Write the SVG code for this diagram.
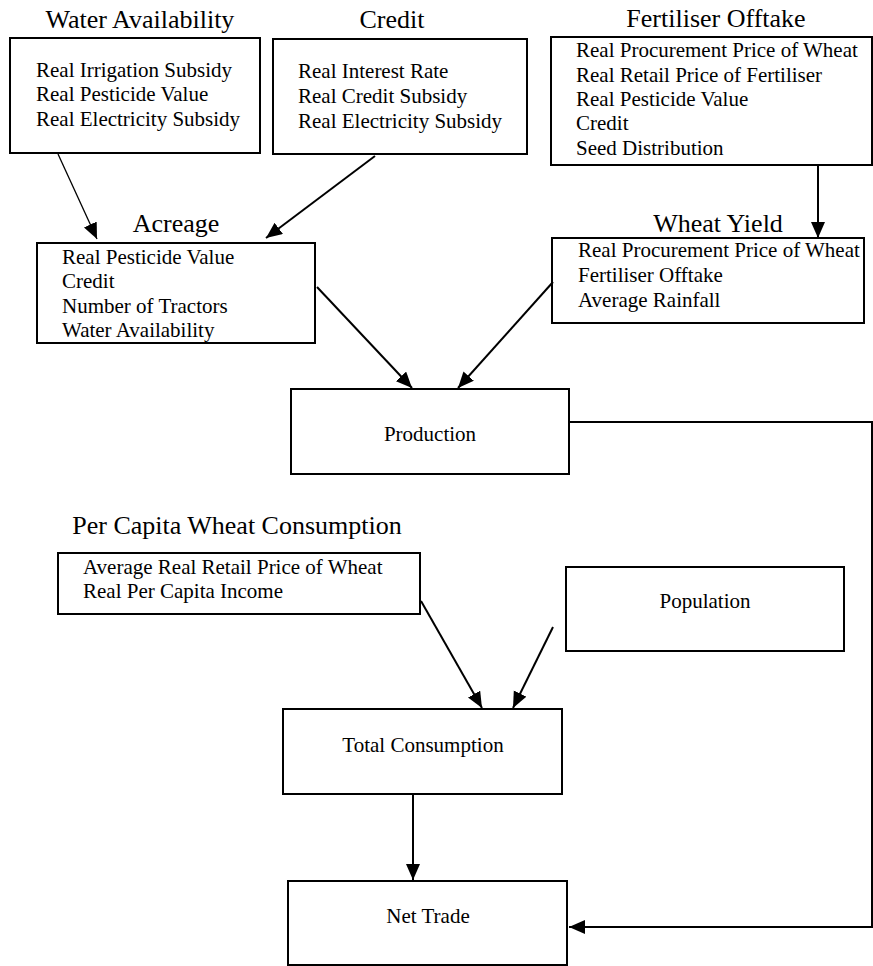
<svg xmlns="http://www.w3.org/2000/svg" width="873" height="966" viewBox="0 0 873 966">
<style>
.box{fill:#fff;stroke:#000;stroke-width:2}
.t{font-family:"Liberation Serif","Times New Roman",serif;font-size:21px;fill:#000}
.h{font-family:"Liberation Serif","Times New Roman",serif;font-size:26px;fill:#000;text-anchor:middle}
.c{text-anchor:middle}
.ln{fill:none;stroke:#000;stroke-width:2}
.thin{stroke-width:1.3}
</style>
<defs>
<marker id="arr" markerUnits="userSpaceOnUse" markerWidth="17" markerHeight="15" refX="16" refY="7" orient="auto">
<path d="M0,0 L16,7 L0,14 z" fill="#000"/>
</marker>
</defs>
<rect width="873" height="966" fill="#fff"/>

<g id="water">
<text class="h" x="140" y="28">Water Availability</text>
<rect class="box" x="10" y="38" width="250" height="115"/>
<text class="t" x="36" y="77">Real Irrigation Subsidy</text>
<text class="t" x="36" y="101">Real Pesticide Value</text>
<text class="t" x="36" y="126">Real Electricity Subsidy</text>
</g>

<g id="credit">
<text class="h" x="392" y="28">Credit</text>
<rect class="box" x="273" y="39" width="254" height="115"/>
<text class="t" x="298" y="78">Real Interest Rate</text>
<text class="t" x="298" y="103">Real Credit Subsidy</text>
<text class="t" x="298" y="128">Real Electricity Subsidy</text>
</g>

<g id="fertiliser">
<text class="h" x="716" y="27">Fertiliser Offtake</text>
<rect class="box" x="551" y="37" width="321" height="128"/>
<text class="t" x="576" y="57">Real Procurement Price of Wheat</text>
<text class="t" x="576" y="82">Real Retail Price of Fertiliser</text>
<text class="t" x="576" y="106">Real Pesticide Value</text>
<text class="t" x="576" y="130">Credit</text>
<text class="t" x="576" y="155">Seed Distribution</text>
</g>

<g id="acreage">
<text class="h" x="176" y="232">Acreage</text>
<rect class="box" x="37" y="243" width="278" height="100"/>
<text class="t" x="62" y="264">Real Pesticide Value</text>
<text class="t" x="62" y="288">Credit</text>
<text class="t" x="62" y="313">Number of Tractors</text>
<text class="t" x="62" y="337">Water Availability</text>
</g>

<g id="wheatyield">
<text class="h" x="718" y="232">Wheat Yield</text>
<rect class="box" x="552" y="238" width="312" height="85"/>
<text class="t" x="578" y="257">Real Procurement Price of Wheat</text>
<text class="t" x="578" y="282">Fertiliser Offtake</text>
<text class="t" x="578" y="307">Average Rainfall</text>
</g>

<g id="production">
<rect class="box" x="291" y="389" width="278" height="85"/>
<text class="t c" x="430" y="441">Production</text>
</g>

<g id="percapita">
<text class="h" x="237" y="534">Per Capita Wheat Consumption</text>
<rect class="box" x="58" y="553" width="362" height="61"/>
<text class="t" x="83" y="574">Average Real Retail Price of Wheat</text>
<text class="t" x="83" y="598">Real Per Capita Income</text>
</g>

<g id="population">
<rect class="box" x="566" y="567" width="278" height="84"/>
<text class="t c" x="705" y="608">Population</text>
</g>

<g id="totalconsumption">
<rect class="box" x="283" y="709" width="279" height="85"/>
<text class="t c" x="423" y="752">Total Consumption</text>
</g>

<g id="nettrade">
<rect class="box" x="288" y="881" width="279" height="84"/>
<text class="t c" x="428" y="923">Net Trade</text>
</g>

<g id="connectors">
<line class="ln thin" x1="58" y1="154" x2="97" y2="239" marker-end="url(#arr)"/>
<line class="ln" x1="375" y1="156" x2="266" y2="238" marker-end="url(#arr)"/>
<line class="ln" x1="818" y1="165" x2="818" y2="238" marker-end="url(#arr)"/>
<line class="ln" x1="317" y1="287" x2="412" y2="388" marker-end="url(#arr)"/>
<line class="ln" x1="553" y1="282" x2="458" y2="388" marker-end="url(#arr)"/>
<line class="ln" x1="421" y1="601" x2="482" y2="708" marker-end="url(#arr)"/>
<line class="ln" x1="553" y1="627" x2="513" y2="708" marker-end="url(#arr)"/>
<line class="ln" x1="413" y1="794" x2="413" y2="880" marker-end="url(#arr)"/>
<polyline class="ln" points="569,422 872,422 872,927 569,927" marker-end="url(#arr)"/>
</g>
</svg>
